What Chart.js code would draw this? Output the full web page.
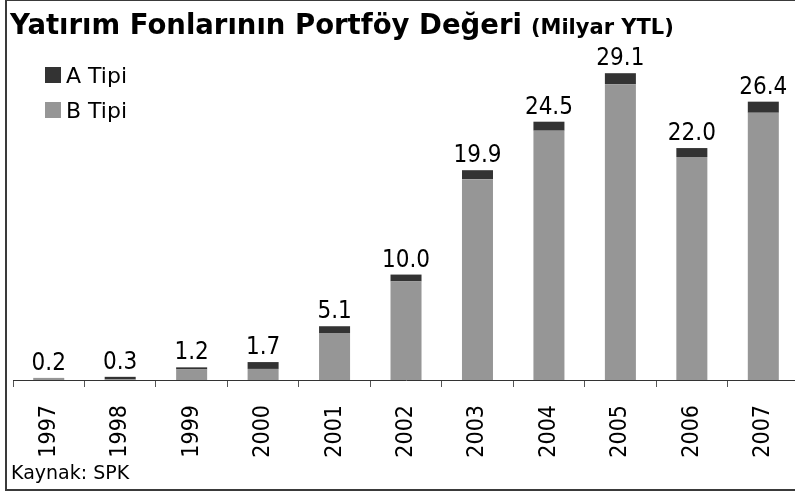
<!DOCTYPE html>
<html>
<head>
<meta charset="utf-8">
<script src="https://cdn.jsdelivr.net/npm/chart.js@4.4.1/dist/chart.umd.min.js"></script>
<style>
  html, body { margin: 0; padding: 0; background: #fff; overflow: hidden; }
  #wrap { position: absolute; left: 0; top: 0; width: 809px; height: 494px; }
  #frame { position: absolute; left: 5px; top: -1px; width: 900px; height: 492px; border: 2px solid #3a3a3a; box-sizing: border-box; pointer-events: none; }
</style>
</head>
<body>
<div id="wrap"><canvas id="c" width="809" height="494"></canvas></div>
<div id="frame"></div>
<script>
const categories = ['1997','1998','1999','2000','2001','2002','2003','2004','2005','2006','2007'];
const totals = [0.2, 0.3, 1.2, 1.7, 5.1, 10.0, 19.9, 24.5, 29.1, 22.0, 26.4];
const aTipi = [0, 0.25, 0.2, 0.65, 0.65, 0.65, 0.85, 0.85, 1.05, 0.85, 1.05];
const bTipi = [0.2, 0.05, 1.0, 1.05, 4.45, 9.35, 19.05, 23.65, 28.05, 21.15, 25.35];
const seriesNames = ['A Tipi', 'B Tipi'];
const titleMain = 'Yatırım Fonlarının Portföy Değeri';
const titleSub = '(Milyar YTL)';
const sourceText = 'Kaynak: SPK';

const COND = '"DejaVu Sans Condensed", "DejaVu Sans", sans-serif';
const SANS = '"DejaVu Sans", sans-serif';
const colA = '#333333';
const colB = '#969696';

const overlay = {
  id: 'overlay',
  afterDatasetsDraw(chart) {
    const ctx = chart.ctx;
    ctx.save();
    // value labels
    const metaTop = chart.getDatasetMeta(1);
    ctx.fillStyle = '#000';
    ctx.font = '24px ' + COND;
    ctx.textAlign = 'center';
    ctx.textBaseline = 'alphabetic';
    metaTop.data.forEach((el, i) => {
      ctx.fillText(totals[i].toFixed(1), el.x, el.y - 8);
    });
    // title
    ctx.textAlign = 'left';
    ctx.font = 'bold 27.5px ' + SANS;
    ctx.fillText(titleMain, 10, 34);
    const w = ctx.measureText(titleMain).width;
    ctx.font = 'bold 21px ' + SANS;
    ctx.fillText(titleSub, 10 + w + 9, 34);
    // legend
    const items = [{t: seriesNames[0], c: colA, y: 83}, {t: seriesNames[1], c: colB, y: 118}];
    ctx.font = '22px ' + SANS;
    items.forEach(it => {
      ctx.fillStyle = it.c;
      ctx.fillRect(45, it.y - 16, 16, 16);
      ctx.fillStyle = '#000';
      ctx.fillText(it.t, 66, it.y);
    });
    // source
    ctx.font = '19px ' + SANS;
    ctx.fillText(sourceText, 11, 479);
    ctx.restore();
  }
};

new Chart(document.getElementById('c'), {
  type: 'bar',
  data: {
    labels: categories,
    datasets: [
      { label: seriesNames[1], data: bTipi, backgroundColor: colB, stack: 's' },
      { label: seriesNames[0], data: aTipi, backgroundColor: colA, stack: 's' }
    ]
  },
  options: {
    responsive: false,
    animation: false,
    devicePixelRatio: 1,
    layout: { padding: { left: 13, right: 2, top: 11, bottom: 0 } },
    datasets: { bar: { categoryPercentage: 1, barPercentage: 0.434 } },
    plugins: { legend: { display: false }, tooltip: { enabled: false }, title: { display: false } },
    scales: {
      x: {
        stacked: true,
        afterFit(scale) { scale.height = 114; },
        grid: { display: true, drawOnChartArea: false, drawTicks: true, tickLength: 7, color: '#555', offset: true },
        border: { display: true, color: '#333', width: 1 },
        ticks: { color: '#000', font: { family: COND, size: 23 }, minRotation: 90, maxRotation: 90, padding: 18, autoSkip: false }
      },
      y: {
        stacked: true,
        display: false,
        min: 0,
        max: 35
      }
    }
  },
  plugins: [overlay]
});
</script>
</body>
</html>
